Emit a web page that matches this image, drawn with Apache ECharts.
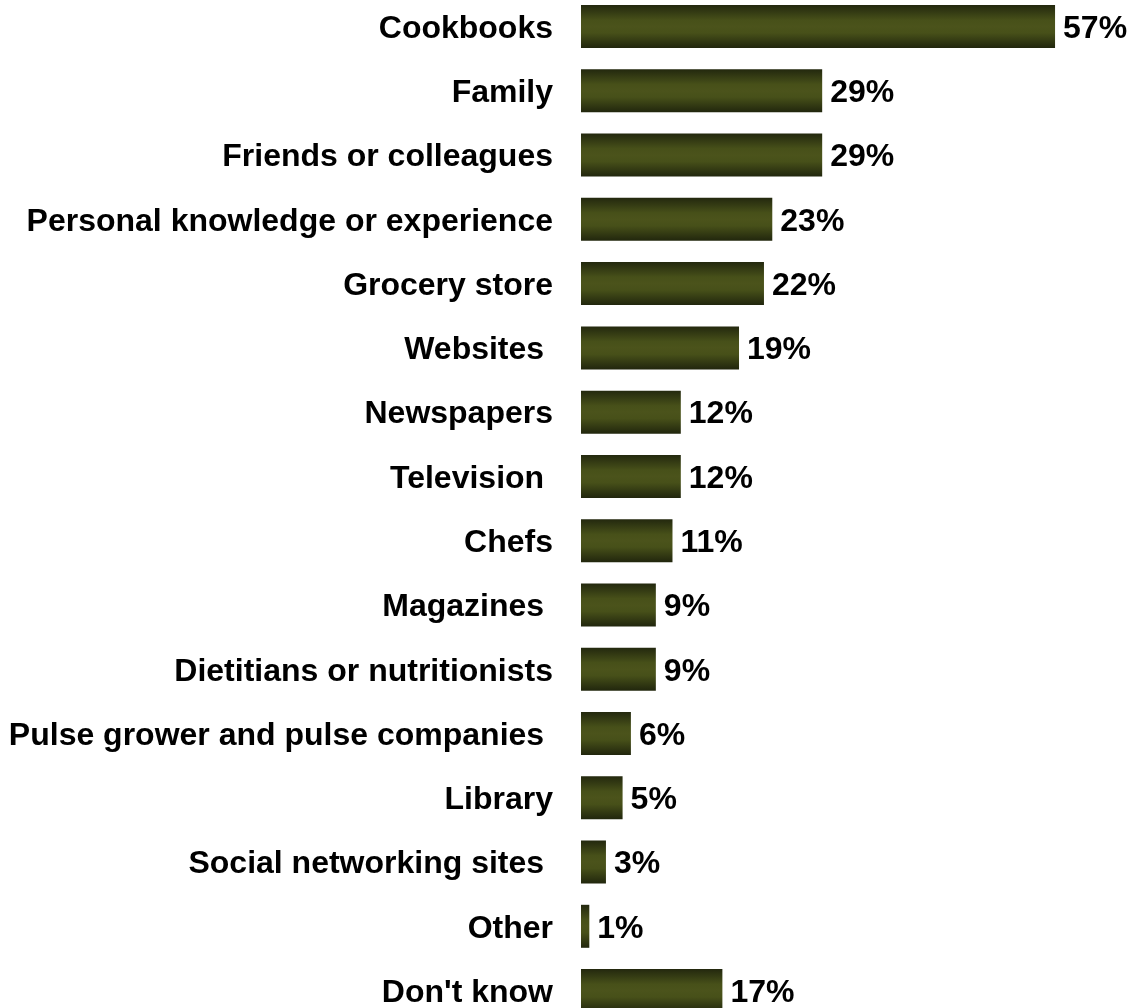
<!DOCTYPE html>
<html>
<head>
<meta charset="utf-8">
<script src="https://cdn.jsdelivr.net/npm/echarts@6/dist/echarts.min.js"></script>
<style>
  html, body { margin: 0; padding: 0; background: #fff; overflow: hidden; width: 1133px; height: 1008px; }
  #chart { position: absolute; left: 0; top: -6px; width: 1133px; height: 1030px; }
</style>
</head>
<body>
<div id="chart"></div>
<script>
// Sources of information, share of respondents (%)
const categories = [
  'Cookbooks',
  'Family',
  'Friends or colleagues',
  'Personal knowledge or experience',
  'Grocery store',
  'Websites ',
  'Newspapers',
  'Television ',
  'Chefs',
  'Magazines ',
  'Dietitians or nutritionists',
  'Pulse grower and pulse companies ',
  'Library',
  'Social networking sites ',
  'Other',
  "Don't know"
];
const values = [57, 29, 29, 23, 22, 19, 12, 12, 11, 9, 9, 6, 5, 3, 1, 17];

const FONT = '"Liberation Sans", Arial, Helvetica, sans-serif';

const chart = echarts.init(document.getElementById('chart'), null, { renderer: 'canvas' });

// Olive bar shading: dark edges, lighter band through the middle
const barFill = new echarts.graphic.LinearGradient(0, 0, 0, 1, [
  { offset: 0, color: '#23280e' },
  { offset: 0.35, color: '#475019' },
  { offset: 0.5, color: '#4b531b' },
  { offset: 0.65, color: '#475019' },
  { offset: 1, color: '#21260d' }
]);

chart.setOption({
  animation: false,
  backgroundColor: '#ffffff',
  grid: { left: 581, top: 0.4, width: 499, height: 1028.3, containLabel: false },
  xAxis: {
    type: 'value',
    min: 0,
    max: 60,
    show: false
  },
  yAxis: {
    type: 'category',
    data: categories,
    inverse: true,
    axisLine: { show: false },
    axisTick: { show: false },
    splitLine: { show: false },
    axisLabel: {
      margin: 28,
      color: '#000',
      fontFamily: FONT,
      fontWeight: 'bold',
      fontSize: 32,
      verticalAlign: 'top',
      lineHeight: 5
    }
  },
  series: [{
    type: 'bar',
    data: values,
    barWidth: 43,
    itemStyle: { color: barFill },
    label: {
      show: true,
      position: 'right',
      distance: 8,
      offset: [0, 2.5],
      formatter: '{c}%',
      color: '#000',
      fontFamily: FONT,
      fontWeight: 'bold',
      fontSize: 32
    }
  }]
});
</script>
</body>
</html>
